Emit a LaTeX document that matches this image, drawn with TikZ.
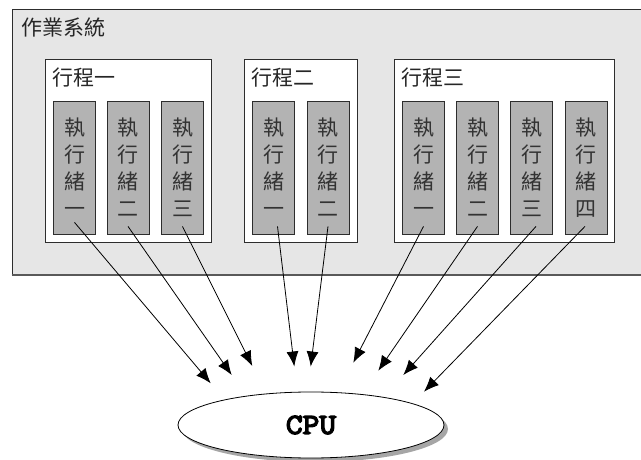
\documentclass[tikz,border=0pt]{standalone}
\usepackage{fontspec}
\newfontfamily\cjk{Noto Sans CJK TC}
\newfontfamily\cpufont{Latin Modern Mono}[FakeBold=5,FakeStretch=1.12]
\usetikzlibrary{shapes.geometric,arrows.meta,shadows}
\definecolor{osfill}{RGB}{230,230,230}
\definecolor{thfill}{RGB}{179,179,179}
\definecolor{edge}{RGB}{45,45,45}
\tikzset{
  osbox/.style={draw=edge, fill=osfill, line width=0.8pt, minimum width=648pt, minimum height=266pt, inner sep=0pt},
  procbox/.style={draw=edge, fill=white, line width=0.8pt, inner sep=0pt},
  thread/.style={draw=edge, fill=thfill, line width=0.8pt, minimum width=42pt, minimum height=133pt, inner sep=0pt, align=center, text=black!80, font=\cjk\fontsize{21}{27}\selectfont},
  title/.style={anchor=west, inner sep=0pt, text=black!85, font=\cjk\fontsize{21}{25}\selectfont},
  link/.style={line width=0.8pt, -{Latex[length=15pt,width=12pt]}},
  cpu/.style={ellipse, draw=black, fill=white, line width=0.8pt, minimum width=266pt, minimum height=66pt, inner sep=0pt,
    drop shadow={shadow xshift=4pt, shadow yshift=-4pt, fill=black!35, opacity=1},
    font=\cpufont\fontsize{29}{32}\selectfont}
}
\begin{document}
\begin{tikzpicture}[x=1pt,y=-1pt]
\useasboundingbox (0,0) rectangle (641,460);
% operating system
\node[osbox] (os) at (336,142) {};
\draw[line width=2pt, draw=black!65] (os.south west) -- (os.south east);
\node[title] (ostitle) at (21,28) {作業系統};
% processes
\node[procbox, minimum width=166.5pt, minimum height=183.5pt] (p1) at (128.25,150.8) {};
\node[procbox, minimum width=113pt, minimum height=183.5pt] (p2) at (300.8,150.8) {};
\node[procbox, minimum width=220.3pt, minimum height=183.5pt] (p3) at (504.2,150.8) {};
\node[title] (p1t) at (52,78) {行程一};
\node[title] (p2t) at (251.5,78) {行程二};
\node[title] (p3t) at (401.5,78) {行程三};
% threads
\node[thread] (t11) at (74.5,167.5) {執\\行\\緒\\一};
\node[thread] (t12) at (128,167.5) {執\\行\\緒\\二};
\node[thread] (t13) at (182.5,167.5) {執\\行\\緒\\三};
\node[thread] (t21) at (273.5,167.5) {執\\行\\緒\\一};
\node[thread] (t22) at (328,167.5) {執\\行\\緒\\二};
\node[thread] (t31) at (423.5,167.5) {執\\行\\緒\\一};
\node[thread] (t32) at (477.5,167.5) {執\\行\\緒\\二};
\node[thread] (t33) at (531.5,167.5) {執\\行\\緒\\三};
\node[thread] (t34) at (586,167.5) {執\\行\\緒\\四};
% CPU
\node[cpu] (cpu) at (311,425) {CPU};
% arrow ends
\coordinate (e1) at (210.7,383.3);
\coordinate (e2) at (231.7,375);
\coordinate (e3) at (252.3,366);
\coordinate (e4) at (294.3,366.5);
\coordinate (e5) at (310.7,366.5);
\coordinate (e6) at (353.3,362.7);
\coordinate (e7) at (378.3,370.7);
\coordinate (e8) at (403.3,375);
\coordinate (e9) at (424,391.7);
% connectors
\draw[link] ([yshift=12pt]t11.south) -- (e1);
\draw[link] ([yshift=8pt]t12.south) -- (e2);
\draw[link] ([yshift=8pt]t13.south) -- (e3);
\draw[link] ([xshift=4pt,yshift=8pt]t21.south) -- (e4);
\draw[link] ([yshift=8pt]t22.south) -- (e5);
\draw[link] ([yshift=8pt]t31.south) -- (e6);
\draw[link] ([yshift=8pt]t32.south) -- (e7);
\draw[link] ([xshift=4.5pt,yshift=8pt]t33.south) -- (e8);
\draw[link] ([xshift=-1pt,yshift=8pt]t34.south) -- (e9);
\end{tikzpicture}
\end{document}
